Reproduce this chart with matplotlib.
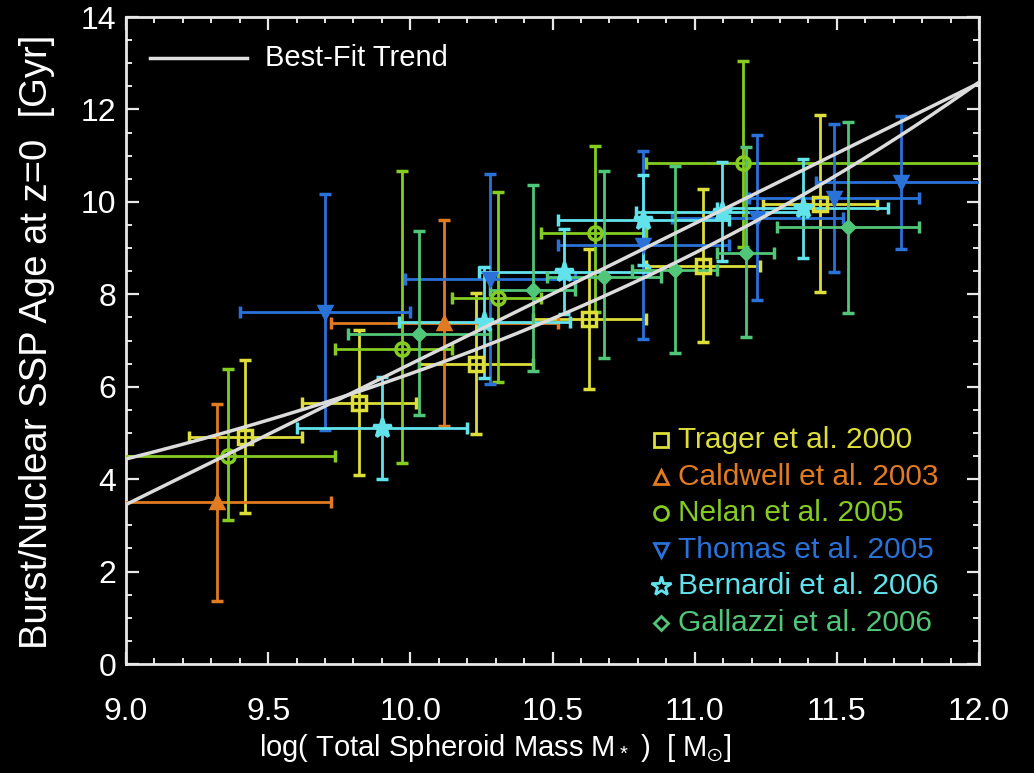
import numpy as np
import matplotlib
matplotlib.use("Agg")
import matplotlib.pyplot as plt
from matplotlib.ticker import MultipleLocator, FormatStrFormatter

plt.rcParams['font.family'] = ['Liberation Sans', 'DejaVu Sans']
plt.rcParams['mathtext.default'] = 'regular'

# --- data ---
trager_x = [9.42, 9.82, 10.23, 10.63, 11.03, 11.44]
trager_y = [4.92, 5.65, 6.50, 7.47, 8.62, 9.96]
trager_xerr = [0.2, 0.2, 0.2, 0.2, 0.2, 0.2]
trager_yerr = [1.65, 1.57, 1.53, 1.52, 1.65, 1.91]

caldwell_x = [9.32, 10.12]
caldwell_y = [3.50, 7.38]
caldwell_xerr = [0.40, 0.40]
caldwell_yerr = [2.13, 2.22]

nelan_x = [9.36, 9.97, 10.31, 10.65, 11.17]
nelan_y = [4.49, 6.81, 7.92, 9.32, 10.83]
nelan_xerr = [[0.39, 0.235, 0.165, 0.19, 0.34], [0.375, 0.175, 0.15, 0.18, 1.03]]
nelan_yerr = [[1.37, 2.46, 1.81, 1.70, 1.80], [1.90, 3.85, 2.30, 1.89, 2.21]]

thomas_x = [9.70, 10.28, 10.82, 11.22, 11.49, 11.725]
thomas_y = [7.62, 8.33, 9.06, 9.66, 10.08, 10.42]
thomas_xerr = [0.3, 0.3, 0.3, 0.3, 0.3, 0.3]
thomas_yerr = [2.56, 2.28, 2.03, 1.79, 1.60, 1.43]

bernardi_x = [9.90, 10.26, 10.54, 10.82, 11.095, 11.38]
bernardi_y = [5.10, 7.39, 8.49, 9.61, 9.79, 9.86]
bernardi_xerr = [0.3, 0.3, 0.3, 0.3, 0.3, 0.3]
bernardi_yerr = [1.10, 1.20, 0.92, 0.97, 1.08, 1.07]

gallazzi_x = [10.03, 10.43, 10.68, 10.93, 11.18, 11.54]
gallazzi_y = [7.14, 8.10, 8.38, 8.53, 8.90, 9.45]
gallazzi_xerr = [0.25, 0.15, 0.2, 0.15, 0.1, 0.25]
gallazzi_yerr = [[1.75, 1.77, 1.76, 1.80, 1.82, 1.85], [2.23, 2.27, 2.28, 2.24, 2.29, 2.27]]

# best-fit trends: linear (age at logM=9, slope) and power law (log age at logM=9, slope)
fit_lin = (3.45, 3.04)
fit_pow = (0.647, 0.151)

series = [
    ("Trager et al. 2000", trager_x, trager_y, trager_xerr, trager_yerr, '#dede3a', 's', 'none'),
    ("Caldwell et al. 2003", caldwell_x, caldwell_y, caldwell_xerr, caldwell_yerr, '#e07b22', '^', 'fill'),
    ("Nelan et al. 2005", nelan_x, nelan_y, nelan_xerr, nelan_yerr, '#84cc22', 'o', 'none'),
    ("Thomas et al. 2005", thomas_x, thomas_y, thomas_xerr, thomas_yerr, '#2a72d8', 'v', 'fill'),
    ("Bernardi et al. 2006", bernardi_x, bernardi_y, bernardi_xerr, bernardi_yerr, '#62e2ea', '*', 'fill'),
    ("Gallazzi et al. 2006", gallazzi_x, gallazzi_y, gallazzi_xerr, gallazzi_yerr, '#52c678', 'D', 'fill'),
]
msizes = {'s': 9.5, '^': 8.5, 'o': 9.5, 'v': 8.5, '*': 14, 'D': 6.5}
leg_ms = {'s': 10, '^': 10, 'o': 10, 'v': 10, '*': 15, 'D': 7.5}

fig = plt.figure(figsize=(10.34, 7.73), dpi=100, facecolor='black')
ax = fig.add_axes([126/1034, 109/773, 853/1034, 647/773])
ax.set_facecolor('black')

for name, x, y, xe, ye, col, mk, fill in series:
    mfc = col if fill == 'fill' else 'none'
    ax.errorbar(x, y, xerr=xe, yerr=ye, fmt=mk, color=col, ecolor=col,
                elinewidth=2.0, capsize=4, capthick=2.0, ms=msizes[mk],
                mfc=mfc, mec=col, mew=2.5, zorder=3)

m = np.linspace(9.0, 12.0, 200)
ax.plot(m, fit_lin[0] + fit_lin[1] * (m - 9.0), color='#dcdcdc', lw=2.5, zorder=4)
ax.plot(m, 10 ** (fit_pow[0] + fit_pow[1] * (m - 9.0)), color='#dcdcdc', lw=2.5, zorder=4)

ax.set_xlim(9.0, 12.0)
ax.set_ylim(0, 14)
ax.xaxis.set_major_locator(MultipleLocator(0.5))
ax.xaxis.set_minor_locator(MultipleLocator(0.1))
ax.xaxis.set_major_formatter(FormatStrFormatter('%.1f'))
ax.yaxis.set_major_locator(MultipleLocator(2))
ax.yaxis.set_minor_locator(MultipleLocator(0.5))

for sp in ax.spines.values():
    sp.set_color('#e8e8e8')
    sp.set_linewidth(2)
ax.tick_params(which='both', direction='in', top=True, right=True, colors='#e8e8e8')
ax.tick_params(which='major', length=9, width=1.6, labelsize=23)
ax.tick_params(which='minor', length=4.5, width=1.4)
ax.tick_params(axis='x', which='major', pad=24)
ax.tick_params(axis='y', which='major', pad=7)
for lab in ax.get_xticklabels() + ax.get_yticklabels():
    lab.set_color('white')

fig.text(495/1034, 1 - 748/773, r"log( Total Spheroid Mass M$_*$ )  [ M$_{\odot}$]",
         color='white', fontsize=21, ha='center', va='center')
fig.text(37/1034, 1 - 342/773, "Burst/Nuclear SSP Age at z=0  [Gyr]",
         color='white', fontsize=27.5, ha='center', va='center', rotation=90)

# best-fit legend entry
ax.plot([0.028, 0.142], [0.937, 0.937], transform=ax.transAxes, color='#e0e0e0', lw=2.5)
ax.text(0.163, 0.937, "Best-Fit Trend", transform=ax.transAxes, color='white',
        fontsize=21, va='center', ha='left')

# data legend
leg_y = [0.346, 0.289, 0.233, 0.176, 0.121, 0.063]
for (name, x, y, xe, ye, col, mk, fill), yy in zip(series, leg_y):
    ax.plot([0.627], [yy], marker=mk, transform=ax.transAxes, color=col, mfc='none',
            mec=col, mew=2.0, ms=leg_ms[mk], ls='none', clip_on=False)
    ax.text(0.647, yy, name, transform=ax.transAxes, color=col, fontsize=21.5,
            va='center', ha='left')

fig.savefig('out.png', dpi=100, facecolor='black')
